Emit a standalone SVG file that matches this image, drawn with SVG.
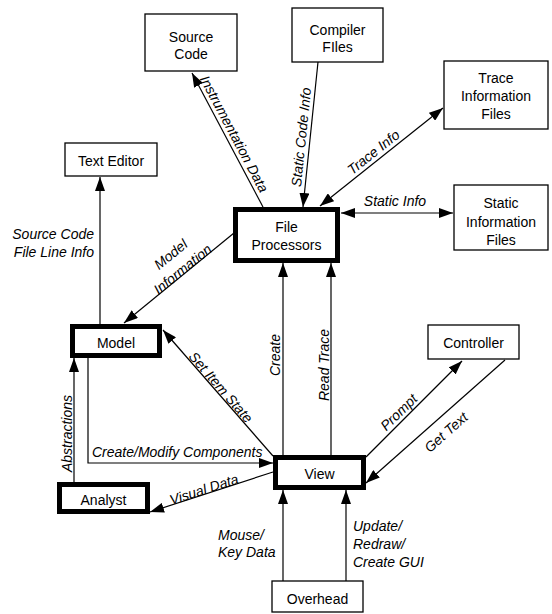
<svg xmlns="http://www.w3.org/2000/svg" width="552" height="614" viewBox="0 0 552 614">
<defs>
<marker id="ah" viewBox="0 0 14 10" refX="14" refY="5" markerWidth="14" markerHeight="10" markerUnits="userSpaceOnUse" orient="auto-start-reverse"><path d="M0,0 L14,5 L0,10 z" fill="#000"/></marker>
<style>
.box{fill:#fff;stroke:#000;stroke-width:1.3}
.thick{fill:#fff;stroke:#000;stroke-width:5}
text{font-family:"Liberation Sans",Arial,sans-serif;font-size:14px;fill:#000}
.n{text-anchor:middle}
.l{font-style:italic}
.c{text-anchor:middle}
.e line,.e path{stroke:#000;stroke-width:1.2;fill:none}
</style>
</defs>
<rect width="552" height="614" fill="#fff"/>
<g id="connectors" class="e">
<line x1="263" y1="207" x2="192" y2="73" marker-end="url(#ah)"/>
<line x1="318" y1="62" x2="303" y2="207" marker-end="url(#ah)"/>
<line x1="320" y1="206" x2="443" y2="108" marker-start="url(#ah)" marker-end="url(#ah)"/>
<line x1="341" y1="213" x2="453" y2="213" marker-start="url(#ah)" marker-end="url(#ah)"/>
<line x1="234" y1="233" x2="124" y2="323" marker-end="url(#ah)"/>
<line x1="100" y1="324" x2="100" y2="177" marker-end="url(#ah)"/>
<line x1="273" y1="456" x2="163" y2="330" marker-end="url(#ah)"/>
<path d="M88,358 V463 H273" marker-end="url(#ah)"/>
<line x1="273" y1="472" x2="150" y2="512" marker-end="url(#ah)"/>
<line x1="74" y1="482" x2="74" y2="358" marker-end="url(#ah)"/>
<line x1="283" y1="455" x2="283" y2="263" marker-end="url(#ah)"/>
<line x1="331" y1="455" x2="331" y2="263" marker-end="url(#ah)"/>
<line x1="366" y1="457" x2="462" y2="361" marker-end="url(#ah)"/>
<line x1="505" y1="360" x2="366" y2="483" marker-end="url(#ah)"/>
<line x1="283" y1="581" x2="283" y2="490" marker-end="url(#ah)"/>
<line x1="346" y1="581" x2="346" y2="490" marker-end="url(#ah)"/>
<g class="l">
<text class="c" transform="translate(226.4,138) rotate(62.1)" y="-4">Instrumentation Data</text>
<text class="c" transform="translate(310,138) rotate(-84.1)" y="-4">Static Code Info</text>
<text class="c" transform="translate(379,159) rotate(-38.5)" y="-4">Trace Info</text>
<text class="c" x="395" y="206">Static Info</text>
<text class="c" transform="translate(185.7,272.9) rotate(-39)"><tspan x="0" y="-19">Model</tspan><tspan x="0" y="0">Information</tspan></text>
<text text-anchor="end"><tspan x="94" y="239">Source Code</tspan><tspan x="94" y="257">File Line Info</tspan></text>
<text class="c" transform="translate(216.4,391) rotate(48.9)" y="-1">Set Item State</text>
<text x="92" y="457">Create/Modify Components</text>
<text class="c" transform="translate(205.5,494) rotate(-18)" y="0">Visual Data</text>
<text class="c" transform="translate(72,433.5) rotate(-90)">Abstractions</text>
<text class="c" transform="translate(280,355) rotate(-90)">Create</text>
<text class="c" transform="translate(329,365) rotate(-90)">Read Trace</text>
<text class="c" transform="translate(405,418.5) rotate(-44.7)" y="-4">Prompt</text>
<text class="c" transform="translate(436,421) rotate(-41.5)" y="20">Get Text</text>
<text><tspan x="218" y="540">Mouse/</tspan><tspan x="218" y="557">Key Data</tspan></text>
<text><tspan x="353" y="531">Update/</tspan><tspan x="353" y="549">Redraw/</tspan><tspan x="353" y="567">Create GUI</tspan></text>
</g>
</g>
<g id="source-code"><rect class="box" x="145" y="14" width="92" height="57"/><text class="n"><tspan x="191" y="42">Source</tspan><tspan x="191" y="59">Code</tspan></text></g>
<g id="compiler-files"><rect class="box" x="292" y="8" width="91" height="54"/><text class="n"><tspan x="337.5" y="35">Compiler</tspan><tspan x="337.5" y="52">FIles</tspan></text></g>
<g id="trace-files"><rect class="box" x="444" y="61" width="104" height="68"/><text class="n"><tspan x="496" y="83">Trace</tspan><tspan x="496" y="101">Information</tspan><tspan x="496" y="119">Files</tspan></text></g>
<g id="static-files"><rect class="box" x="454" y="185" width="94" height="65"/><text class="n"><tspan x="501" y="208">Static</tspan><tspan x="501" y="227">Information</tspan><tspan x="501" y="245">Files</tspan></text></g>
<g id="text-editor"><rect class="box" x="65" y="143" width="92" height="33"/><text class="n" x="111" y="166">Text Editor</text></g>
<g id="file-processors"><rect class="thick" x="235.5" y="209.5" width="102" height="51"/><text class="n"><tspan x="286.5" y="232">File</tspan><tspan x="286.5" y="250">Processors</tspan></text></g>
<g id="model"><rect class="thick" x="72.5" y="326.5" width="87" height="29"/><text class="n" x="116" y="348">Model</text></g>
<g id="analyst"><rect class="thick" x="59.5" y="484.5" width="88" height="27"/><text class="n" x="103.5" y="505">Analyst</text></g>
<g id="view"><rect class="thick" x="275.5" y="457.5" width="88" height="30"/><text class="n" x="319.5" y="479">View</text></g>
<g id="controller"><rect class="box" x="428" y="325" width="91" height="34"/><text class="n" x="473.5" y="348">Controller</text></g>
<g id="overhead"><rect class="box" x="272" y="581" width="91" height="31"/><text class="n" x="317.5" y="604">Overhead</text></g>
</svg>
